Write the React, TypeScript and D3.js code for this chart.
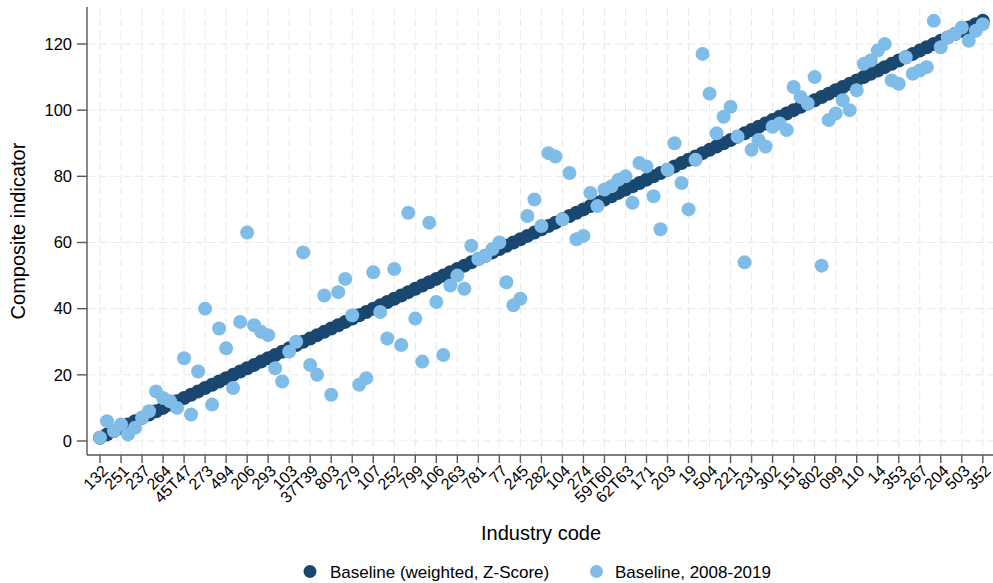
import React from 'react'
import * as d3 from 'd3'

// industry codes shown on the x axis (every third category)
const tickLabels = [
  '132', '251', '237', '264', '45T47', '273', '494', '206', '293', '103', '37T39',
  '803', '279', '107', '252', '799', '106', '263', '781', '77', '245', '282',
  '104', '274', '59T60', '62T63', '171', '203', '19', '504', '221', '231', '302',
  '151', '802', '099', '110', '14', '353', '267', '204', '503', '352'
]

// Baseline (weighted, Z-Score) rank, one per industry
const baseline = [
  1, 2, 3, 4, 5, 6, 7, 8, 9, 10, 11, 12, 13, 14, 15, 16, 17, 18, 19, 20,
  21, 22, 23, 24, 25, 26, 27, 28, 29, 30, 31, 32, 33, 34, 35, 36, 37, 38, 39, 40,
  41, 42, 43, 44, 45, 46, 47, 48, 49, 50, 51, 52, 53, 54, 55, 56, 57, 58, 59, 60,
  61, 62, 63, 64, 65, 66, 67, 68, 69, 70, 71, 72, 73, 74, 75, 76, 77, 78, 79, 80,
  81, 82, 83, 84, 85, 86, 87, 88, 89, 90, 91, 92, 93, 94, 95, 96, 97, 98, 99, 100,
  101, 102, 103, 104, 105, 106, 107, 108, 109, 110, 111, 112, 113, 114, 115, 116,
  117, 118, 119, 120, 121, 122, 123, 124, 125, 126, 127
]

// Baseline, 2008-2019 rank, same industry order
const baseline0819 = [
  1, 6, 3, 5, 2, 4, 7, 9, 15, 13, 12, 10, 25, 8, 21, 40, 11, 34, 28, 16,
  36, 63, 35, 33, 32, 22, 18, 27, 30, 57, 23, 20, 44, 14, 45, 49, 38, 17, 19, 51,
  39, 31, 52, 29, 69, 37, 24, 66, 42, 26, 47, 50, 46, 59, 55, 56, 58, 60, 48, 41,
  43, 68, 73, 65, 87, 86, 67, 81, 61, 62, 75, 71, 76, 77, 79, 80, 72, 84, 83, 74,
  64, 82, 90, 78, 70, 85, 117, 105, 93, 98, 101, 92, 54, 88, 91, 89, 95, 96, 94, 107,
  104, 102, 110, 53, 97, 99, 103, 100, 106, 114, 115, 118, 120, 109, 108, 116, 111,
  112, 113, 127, 119, 122, 123, 125, 121, 124, 126
]

const yTicks = [0, 20, 40, 60, 80, 100, 120]

const dark = '#1a476f'
const light = '#7fbde8'
const font = '"Liberation Sans", Arial, sans-serif'

function App() {
  const width = 993
  const height = 583
  const left = 87
  const right = 996
  const top = 7
  const bottom = 455

  const idx = d3.range(baseline.length)
  const x = d3.scalePoint<number>().domain(idx).range([100, 982.8])
  const y = d3.scaleLinear().domain([0, 120]).range([441, 44])

  const tickIdx = idx.filter(i => i % 3 === 0)

  return (
    <svg
      width={width}
      height={height}
      style={{ position: 'absolute', left: 0, top: 0, fontFamily: font }}
    >
      <rect width={width} height={height} fill="#fff" />

      {/* grid */}
      {yTicks.map(t => (
        <line
          key={'gy' + t}
          x1={left}
          x2={right}
          y1={y(t)}
          y2={y(t)}
          stroke="#e8e8e8"
          strokeDasharray="8 4"
        />
      ))}
      {tickIdx.map(i => (
        <line
          key={'gx' + i}
          x1={x(i)}
          x2={x(i)}
          y1={top}
          y2={bottom}
          stroke="#e8e8e8"
          strokeDasharray="8 4"
        />
      ))}

      {/* series */}
      {baseline.map((v, i) => (
        <circle key={'d' + i} cx={x(i)} cy={y(v)} r={7} fill={dark} />
      ))}
      {baseline0819.map((v, i) => (
        <circle key={'l' + i} cx={x(i)} cy={y(v)} r={7} fill={light} />
      ))}

      {/* y axis */}
      <line x1={left} x2={left} y1={top} y2={bottom} stroke="#555" strokeWidth={1.4} />
      {yTicks.map(t => (
        <g key={'yt' + t} transform={`translate(0,${y(t)})`}>
          <line x1={left - 10} x2={left} stroke="#555" strokeWidth={1.4} />
          <text x={72} dy="0.35em" textAnchor="end" fontSize={16.5} fill="#000">
            {t}
          </text>
        </g>
      ))}

      {/* x axis */}
      <line x1={left} x2={right} y1={bottom} y2={bottom} stroke="#555" strokeWidth={1.4} />
      {tickIdx.map((i, k) => (
        <g key={'xt' + i} transform={`translate(${x(i)},${bottom})`}>
          <line y1={0} y2={8} stroke="#555" strokeWidth={1.4} />
          <text
            transform="translate(5,13) rotate(-45)"
            textAnchor="end"
            dy="0.35em"
            fontSize={16}
            fill="#000"
          >
            {tickLabels[k]}
          </text>
        </g>
      ))}

      {/* titles */}
      <text x={541} y={540} textAnchor="middle" fontSize={20} fill="#000">
        Industry code
      </text>
      <text
        transform="translate(25,231) rotate(-90)"
        textAnchor="middle"
        fontSize={20}
        fill="#000"
      >
        Composite indicator
      </text>

      {/* legend */}
      <circle cx={310} cy={571.5} r={6.5} fill={dark} />
      <text x={330} y={577.5} fontSize={17} fill="#000">
        Baseline (weighted, Z-Score)
      </text>
      <circle cx={596.5} cy={571.5} r={6.5} fill={light} />
      <text x={615} y={577.5} fontSize={17} fill="#000">
        Baseline, 2008-2019
      </text>
    </svg>
  )
}

export default App
